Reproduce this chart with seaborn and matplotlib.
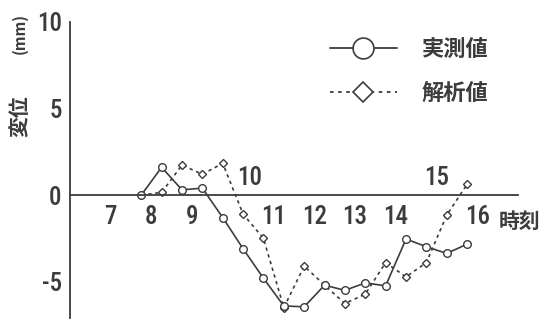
import pandas as pd
import seaborn as sns
import matplotlib.pyplot as plt
from matplotlib.lines import Line2D

# ------------------------------------------------------------
# DATA
# ------------------------------------------------------------
times = [7.75, 8.25, 8.75, 9.25, 9.75, 10.25, 10.75, 11.25, 11.75,
         12.25, 12.75, 13.25, 13.75, 14.25, 14.75, 15.25, 15.75]
measured = [0.0, 1.6, 0.3, 0.4, -1.3, -3.1, -4.8, -6.4, -6.45,
            -5.2, -5.5, -5.07, -5.24, -2.54, -2.98, -3.37, -2.83]
analysed = [0.0, 0.15, 1.73, 1.2, 1.83, -1.1, -2.5, -6.5, -4.1,
            -5.2, -6.26, -5.72, -3.9, -4.72, -3.9, -1.16, 0.62]

hour_ticks = [7, 8, 9, 10, 11, 12, 13, 14, 15, 16, 17]
hour_labels = ["7", "8", "9", "10", "11", "12", "13", "14", "15", "16", ""]
labels_above = ["10", "15"]      # these sit above the axis in the original
y_major = [-5, 0, 5, 10]
y_minor = list(range(-7, 11))

series_names = ["実測値", "解析値"]

df = pd.DataFrame({"time": times, "measured": measured, "analysed": analysed})

# ------------------------------------------------------------
# STYLE
# ------------------------------------------------------------
sns.set_style("white")
NUM = ['Roboto Condensed', 'DejaVu Sans']
JP = ['Noto Sans CJK JP', 'DejaVu Sans']
plt.rcParams['font.family'] = NUM
plt.rcParams['font.weight'] = 'medium'
INK = "#3c3c3c"

fig = plt.figure(figsize=(5.5, 3.2), dpi=100)
ax = fig.add_axes([70 / 550, 0.006, 448 / 550, 0.926])

# analysis first so the measured circles sit on top
sns.lineplot(data=df, x="time", y="analysed", ax=ax, color=INK, linewidth=1.2,
             dashes=(2, 2.2), marker="D", markersize=4.2,
             markerfacecolor="white", markeredgecolor=INK, markeredgewidth=1.0)
sns.lineplot(data=df, x="time", y="measured", ax=ax, color=INK, linewidth=1.2,
             marker="o", markersize=5.5,
             markerfacecolor="white", markeredgecolor=INK, markeredgewidth=1.0)

ax.set_xlim(6, 17)
ax.set_ylim(-7.1, 10)
ax.set_xlabel("")
ax.set_ylabel("")

# Spines: y axis at left, x axis through zero
for s in ["top", "right"]:
    ax.spines[s].set_visible(False)
ax.spines["bottom"].set_position(("data", 0))
ax.spines["left"].set_bounds(-7.1, 10)
for s in ["left", "bottom"]:
    ax.spines[s].set_color(INK)
    ax.spines[s].set_linewidth(1.3)

ax.set_yticks(y_major)
ax.set_yticks(y_minor, minor=True)
ax.set_yticklabels([str(v) for v in y_major], fontsize=18, color=INK)
ax.tick_params(axis="y", which="both", direction="inout", length=8, width=1.1,
               color=INK, pad=2)

ax.set_xticks(hour_ticks)
ax.set_xticklabels([])
ax.tick_params(axis="x", which="major", direction="inout", length=4, width=1.1, color=INK)

# hour labels, below the axis except where the lines cross
for h, lab in zip(hour_ticks, hour_labels):
    if lab in labels_above:
        dx = 0.1 if lab == "10" else 0.0
        ax.text(h + dx, 0.3, lab, ha="left" if dx else "center", va="bottom",
                fontsize=18, color=INK)
    elif lab:
        ax.text(h, -0.6, lab, ha="center", va="top", fontsize=18, color=INK)

ax.text(16.53, -1.55, "時刻", ha="left", va="center", fontsize=15,
        color=INK, family=JP, weight="bold")

# y axis title
fig.text(20 / 550, 1 - 116 / 320, "変位", rotation=90, ha="center", va="center",
         fontsize=15, color=INK, family=JP, weight="bold")
fig.text(20 / 550, 1 - 33 / 320, "(mm)", rotation=90, ha="center", va="center",
         fontsize=11, color=INK, family=JP, weight="bold")

# legend
handles = [
    Line2D([], [], color=INK, linewidth=1.3, marker="o", markersize=15,
           markerfacecolor="white", markeredgecolor=INK, markeredgewidth=1.2),
    Line2D([], [], color=INK, linewidth=1.3, linestyle=(0, (2, 2.5)), marker="D",
           markersize=10, markerfacecolor="white", markeredgecolor=INK,
           markeredgewidth=1.2),
]
leg = fig.legend(handles, series_names, loc="upper left",
                 bbox_to_anchor=(330 / 550, 1 - 38 / 320), frameon=False,
                 borderpad=0, borderaxespad=0, handlelength=3.0,
                 handletextpad=1.1, labelspacing=0.95,
                 prop={"family": JP, "size": 16, "weight": "bold"})
for t in leg.get_texts():
    t.set_color(INK)

plt.savefig("out.png", dpi=100)
